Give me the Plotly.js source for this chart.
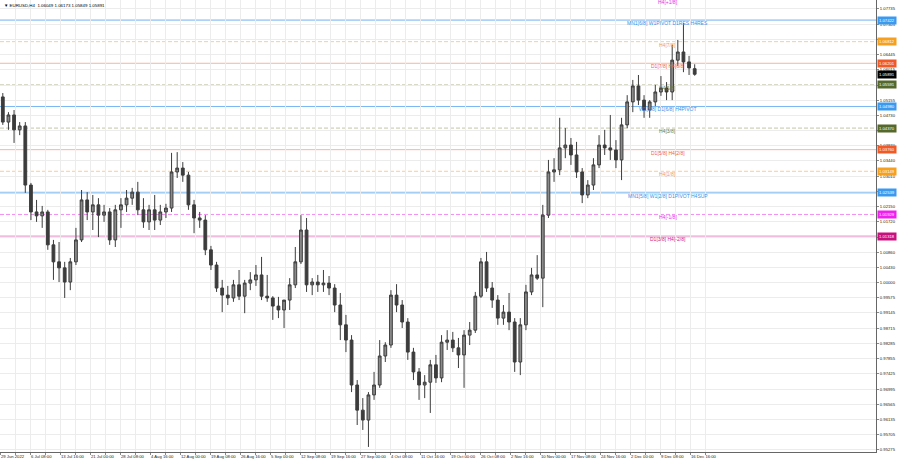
<!DOCTYPE html>
<html>
<head>
<meta charset="utf-8">
<script src="https://cdn.plot.ly/plotly-3.0.1.min.js"></script>
<style>
html,body{margin:0;padding:0;background:#fff;}
#chart{width:900px;height:468px;}
</style>
</head>
<body>
<div id="chart"></div>
<script>
// ---- data (daily bars) ----
const startDate = '2022-06-29';
const barOpen = [1.0525,1.0454,1.0474,1.0432,1.0443,1.0276,1.0200,1.0189,1.0200,1.0107,
1.0059,1.0042,1.0002,1.0059,1.0121,1.0234,1.0200,1.0220,1.0191,1.0200,
1.0121,1.0206,1.0220,1.0239,1.0256,1.0206,1.0172,1.0206,1.0177,1.0200,
1.0211,1.0313,1.0324,1.0304,1.0220,1.0183,1.0177,1.0093,1.0050,0.9985,
0.9965,0.9957,0.9994,0.9962,0.9999,1.0008,1.0022,0.9962,0.9957,0.9934,
0.9923,0.9951,0.9994,1.0059,1.0149,0.9994,1.0002,0.9994,0.9999,0.9985,
0.9937,0.9881,0.9838,0.9711,0.9640,0.9612,0.9683,0.9711,0.9793,0.9824,
0.9965,0.9937,0.9889,0.9804,0.9748,0.9711,0.9719,0.9768,0.9731,0.9832,
0.9838,0.9816,0.9796,0.9852,0.9866,0.9962,1.0059,0.9985,0.9951,0.9900,
0.9917,0.9889,0.9776,0.9881,0.9974,1.0022,1.0013,1.0191,1.0313,1.0319,
1.0381,1.0389,1.0361,1.0313,1.0248,1.0276,1.0333,1.0389,1.0381,1.0375,
1.0347,1.0446,1.0511,1.0556,1.0516,1.0488,1.0511,1.0539,1.0550,1.0539,
1.0629,1.0652,1.0624,1.06049];
const barHigh = [1.0536,1.0482,1.0488,1.0454,1.0454,1.0282,1.0234,1.0217,1.0206,1.0121,
1.0115,1.0059,1.0070,1.0155,1.0262,1.0256,1.0248,1.0239,1.0220,1.0211,
1.0220,1.0239,1.0262,1.0268,1.0285,1.0239,1.0220,1.0248,1.0220,1.0223,
1.0367,1.0369,1.0341,1.0313,1.0234,1.0200,1.0191,1.0104,1.0059,1.0008,
0.9991,1.0008,1.0036,1.0008,1.0030,1.0050,1.0073,1.0022,0.9962,0.9960,
0.9946,1.0013,1.0101,1.0191,1.0183,1.0013,1.0022,1.0036,1.0019,0.9996,
0.9971,0.9909,0.9852,0.9725,0.9674,0.9691,0.9748,0.9838,0.9832,0.9979,
0.9996,0.9951,0.9900,0.9816,0.9759,0.9739,0.9782,0.9796,0.9852,0.9866,
0.9861,0.9844,0.9866,0.9889,0.9974,1.0070,1.0087,1.0002,0.9965,0.9937,
0.9971,0.9900,0.9900,0.9994,1.0042,1.0078,1.0220,1.0347,1.0352,1.0466,
1.0437,1.0409,1.0398,1.0324,1.0290,1.0352,1.0417,1.0432,1.0474,1.0403,
1.0466,1.0530,1.0573,1.0587,1.0530,1.0516,1.0559,1.0584,1.0567,1.0672,
1.0686,1.0734,1.0641,1.06173];
const barLow = [1.0446,1.0432,1.0395,1.0417,1.0254,1.0177,1.0172,1.0155,1.0093,1.0008,
1.0002,0.9957,0.9979,1.0050,1.0115,1.0177,1.0149,1.0129,1.0172,1.0107,
1.0101,1.0155,1.0200,1.0220,1.0191,1.0155,1.0149,1.0149,1.0163,1.0183,
1.0200,1.0296,1.0285,1.0206,1.0140,1.0155,1.0078,1.0036,0.9974,0.9917,
0.9937,0.9946,0.9951,0.9914,0.9979,0.9991,0.9951,0.9946,0.9895,0.9900,
0.9872,0.9923,0.9985,1.0053,0.9974,0.9965,0.9974,0.9974,0.9965,0.9917,
0.9838,0.9804,0.9691,0.9598,0.9584,0.9536,0.9669,0.9703,0.9776,0.9816,
0.9917,0.9872,0.9782,0.9725,0.9669,0.9674,0.9632,0.9717,0.9719,0.9810,
0.9804,0.9759,0.9703,0.9824,0.9858,0.9957,0.9974,0.9929,0.9881,0.9881,
0.9866,0.9748,0.9739,0.9866,0.9965,1.0008,0.9931,1.0183,1.0285,1.0304,
1.0352,1.0333,1.0296,1.0225,1.0239,1.0262,1.0324,1.0361,1.0347,1.0324,
1.0290,1.0437,1.0482,1.0502,1.0466,1.0466,1.0499,1.0528,1.0516,1.0516,
1.0612,1.0595,1.0587,1.05849];
const barClose = [1.0454,1.0474,1.0432,1.0443,1.0276,1.0200,1.0189,1.0200,1.0107,1.0059,
1.0042,1.0002,1.0059,1.0121,1.0234,1.0200,1.0220,1.0191,1.0200,1.0121,
1.0206,1.0220,1.0239,1.0256,1.0206,1.0172,1.0206,1.0177,1.0200,1.0211,
1.0313,1.0324,1.0304,1.0220,1.0183,1.0177,1.0093,1.0050,0.9985,0.9965,
0.9957,0.9994,0.9962,0.9999,1.0008,1.0022,0.9962,0.9957,0.9934,0.9923,
0.9951,0.9994,1.0059,1.0149,0.9994,1.0002,0.9994,0.9999,0.9985,0.9937,
0.9881,0.9838,0.9711,0.9640,0.9612,0.9683,0.9711,0.9793,0.9824,0.9965,
0.9937,0.9889,0.9804,0.9748,0.9711,0.9719,0.9768,0.9731,0.9832,0.9838,
0.9816,0.9796,0.9852,0.9866,0.9962,1.0059,0.9985,0.9951,0.9900,0.9917,
0.9889,0.9776,0.9881,0.9974,1.0022,1.0013,1.0191,1.0313,1.0319,1.0381,
1.0389,1.0361,1.0313,1.0248,1.0276,1.0333,1.0389,1.0381,1.0375,1.0347,
1.0446,1.0511,1.0556,1.0516,1.0488,1.0511,1.0539,1.0550,1.0539,1.0629,
1.0652,1.0624,1.0607,1.05891];

const timeLabels = ['29 Jun 2022','6 Jul 08:00','13 Jul 16:00','21 Jul 00:00','28 Jul 08:00','4 Aug 16:00',
'12 Aug 00:00','19 Aug 08:00','26 Aug 16:00','5 Sep 00:00','12 Sep 08:00','19 Sep 16:00','27 Sep 00:00',
'4 Oct 08:00','11 Oct 16:00','19 Oct 00:00','26 Oct 08:00','2 Nov 16:00','10 Nov 00:00','17 Nov 08:00',
'24 Nov 16:00','2 Dec 00:00','9 Dec 08:00','16 Dec 16:00'];
const barsPerLabel = 32;   // H4 bars between time labels
const barsPerDay = 6;      // H4 bars per trading day

const priceTicks = [1.07735,1.07305,1.06875,1.06445,1.06015,1.05585,1.05155,1.04730,1.04300,1.03870,
1.03440,1.03010,1.02580,1.02150,1.01720,1.01290,1.00860,1.00430,1.00000,0.99575,0.99145,0.98715,
0.98285,0.97855,0.97425,0.96995,0.96565,0.96135,0.95705,0.95275];
// price labels that sit completely under a level's price box in the reference
const coveredTicks = [1.05585,1.04300,1.01290];

const levelPrices = [1.08033,1.07422,1.06812,1.06201,1.05591,1.04980,1.04370,1.03760,1.03149,1.02539,1.01929,1.01318];
const levelNames = ['H4[+1/8]','MN1[6/8] W1PIVOT D1RES H4RES','H4[7/8]','D1[7/8] H4[6/8]','H4[5/8]',
'W1[3/8] D1[6/8] H4PIVOT','H4[3/8]','D1[5/8] H4[2/8]','H4[1/8]','MN1[5/8] W1[2/8] D1PIVOT H4SUP',
'H4[-1/8]','D1[3/8] H4[-2/8]'];
const levelLine = ['#f07af0','#6fb0f2','#f7cf94','#f7b4a4','#c4c4a8','#7ab8f4','#c4c4a8','#f7b4a4','#f7cf94','#6fb0f2','#f38ef3','#e88cc8'];
const levelText = ['#e830e8','#3b8fe6','#f0a040','#f0643c','#6e7d32','#3b8fe6','#6e7d32','#f0643c','#f0a040','#3b8fe6','#e830e8','#d0208c'];
const levelBox  = ['#e830e8','#3a9af0','#f5a020','#f05a28','#55692a','#3a9af0','#55692a','#f05a28','#f5a020','#3a9af0','#f020f0','#c8107e'];
const levelDash = ['dash','solid','dash','solid','dash','solid','dash','solid','dash','solid','dash','solid'];

const header = 'EURUSD,H4  1.06049 1.06173 1.05849 1.05891';
const lastPrice = 1.05891;

// ---- build ----
const n = barClose.length;
const xs = [], dates = [];
let d = new Date(startDate + 'T00:00:00Z');
for (let i = 0; i < n; i++) {
  while (d.getUTCDay() === 0 || d.getUTCDay() === 6) d.setUTCDate(d.getUTCDate() + 1);
  dates.push(d.toISOString().slice(0, 10));
  xs.push(i * barsPerDay + barsPerDay / 2);
  d.setUTCDate(d.getUTCDate() + 1);
}

const tickvals = [], ticktext = [];
timeLabels.forEach((t, k) => {
  tickvals.push(k * barsPerLabel); ticktext.push(t);
  tickvals.push(k * barsPerLabel + barsPerLabel / 2); ticktext.push('');
});

const trace = {
  type: 'candlestick', x: xs, open: barOpen, high: barHigh, low: barLow, close: barClose,
  text: dates, hoverinfo: 'text',
  increasing: {line: {color: '#3c3c3c', width: 1}, fillcolor: '#8a8a8a'},
  decreasing: {line: {color: '#3c3c3c', width: 1}, fillcolor: '#3c3c3c'},
  whiskerwidth: 0, showlegend: false
};

const font = 'Liberation Sans, Arial, sans-serif';
const shapes = [], annotations = [];
const labelX = 712;  // bar index where level captions are centred
levelPrices.forEach((p, i) => {
  const caption = {text: levelNames[i], showarrow: false,
    font: {family: font, size: 5, color: levelText[i]}};
  if (i === 0) {
    // level above the visible range: only its caption peeks in at the top edge
    annotations.push(Object.assign(caption, {xref: 'x', x: labelX, yref: 'paper', y: 1,
      yanchor: 'middle', yshift: -2}));
    return;
  }
  shapes.push({type: 'line', xref: 'paper', x0: 0, x1: 1, yref: 'y', y0: p, y1: p,
    line: {color: levelLine[i], width: 1, dash: levelDash[i] === 'dash' ? '4px,2px' : 'solid'},
    layer: 'below'});
  annotations.push(Object.assign(caption, {xref: 'x', x: labelX, yref: 'y', y: p, yshift: -3}));
  annotations.push({xref: 'paper', x: 1, xanchor: 'left', xshift: 1, yref: 'y', y: p,
    text: p.toFixed(5), showarrow: false, bgcolor: levelBox[i], borderpad: 1,
    font: {family: font, size: 4.2, color: '#ffffff'}});
});
annotations.push({xref: 'paper', x: 1, xanchor: 'left', xshift: 1, yref: 'y', y: lastPrice,
  text: lastPrice.toFixed(5), showarrow: false, bgcolor: '#000000', borderpad: 1,
  font: {family: font, size: 4.2, color: '#ffffff'}});
annotations.push({xref: 'paper', yref: 'paper', x: 0, y: 1, xanchor: 'left', yanchor: 'top',
  xshift: 2, yshift: -1, text: '\u25BC ' + header, showarrow: false,
  font: {family: font, size: 4.4, color: '#000000'}});

const layout = {
  width: 900, height: 468,
  margin: {l: 0, r: 24, t: 0, b: 16},
  paper_bgcolor: '#ffffff', plot_bgcolor: '#ffffff',
  boxgap: 0.3,
  xaxis: {range: [0, 934.4], tickmode: 'array', tickvals: tickvals, ticktext: ticktext,
    tickangle: 0, ticklabelposition: 'outside right', ticks: 'outside', ticklen: 2, tickcolor: '#888',
    showgrid: true, gridcolor: '#ececec', gridwidth: 1, zeroline: false,
    showline: true, linecolor: '#666', mirror: true, rangeslider: {visible: false},
    tickfont: {family: font, size: 4.2, color: '#222'}, fixedrange: true},
  yaxis: {range: [0.95217, 1.07989], side: 'right', tickmode: 'array', tickvals: priceTicks,
    ticktext: priceTicks.map(v => coveredTicks.includes(v) ? '' : v.toFixed(5)),
    ticks: 'outside', ticklen: 2, tickcolor: '#888',
    showgrid: true, gridcolor: '#ececec', gridwidth: 1, zeroline: false,
    showline: true, linecolor: '#666', mirror: true,
    tickfont: {family: font, size: 4.2, color: '#222'}, fixedrange: true},
  shapes: shapes, annotations: annotations
};

Plotly.newPlot('chart', [trace], layout, {displayModeBar: false, staticPlot: true});
</script>
</body>
</html>
